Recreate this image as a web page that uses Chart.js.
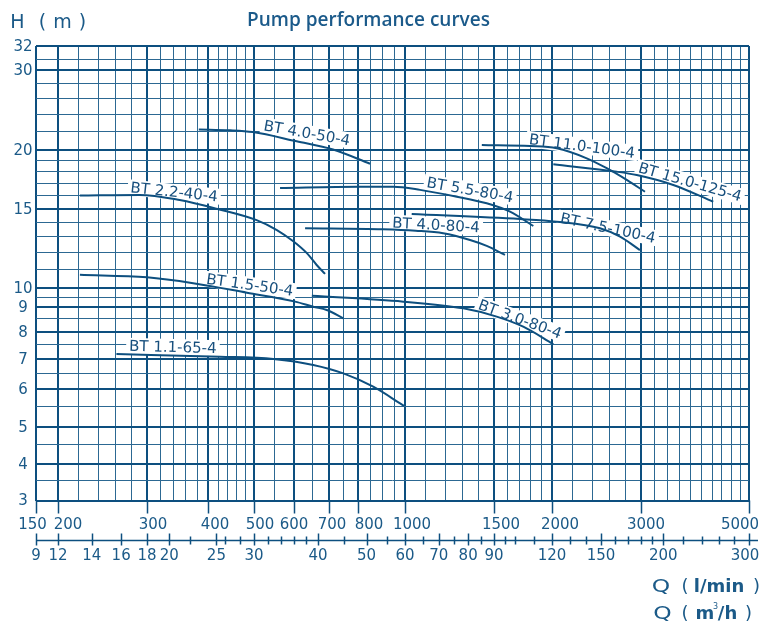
<!DOCTYPE html>
<html>
<head>
<meta charset="utf-8">
<script src="https://cdn.jsdelivr.net/npm/chart.js@4.4.1/dist/chart.umd.min.js"></script>
<style>
    html, body { margin: 0; padding: 0; background: #fff; }
    #wrap { width: 769px; height: 623px; }
</style>
</head>
<body>
<div id="wrap"><canvas id="canvas"></canvas></div>
<script>
// axis ticks (Q in l/min, H in m, secondary Q in m3/h)
const qLabeled = [150, 200, 300, 400, 500, 600, 700, 800, 1000, 1500, 2000, 3000, 5000];
const qMinor = [220, 240, 260, 280, 320, 340, 360, 380, 420, 440, 460, 480, 550, 650, 750, 850, 900, 950,
    1100, 1200, 1300, 1400, 1600, 1700, 1800, 1900, 2200, 2400, 2600, 2800,
    3200, 3400, 3600, 3800, 4000, 4200, 4400, 4600, 4800];
const hLabeled = [3, 4, 5, 6, 7, 8, 9, 10, 15, 20, 30, 32];
const hMinor = [3.5, 4.5, 5.5, 6.5, 7.5, 8.5, 9.5, 11, 12, 13, 14, 16, 17, 18, 19, 22, 24, 26, 28, 31];
const m3hLabeled = [9, 12, 14, 16, 18, 20, 25, 30, 40, 50, 60, 70, 80, 90, 120, 150, 200, 300];
const m3hMinor = [22, 26, 28, 32, 34, 36, 38, 45, 55, 65, 75, 85, 95, 100, 110, 130, 140, 160, 170, 180, 190,
    220, 240, 260, 280];

// pump curves: [Q l/min, H m]
const bt11_65_4 = [[261, 7.17], [424, 7.08], [546, 7.0], [653, 6.79], [748, 6.5], [860, 6.07], [995, 5.53]];
const bt15_50_4 = [[221, 10.7], [300, 10.56], [373, 10.25], [483, 9.74], [603, 9.26], [653, 9.0], [693, 8.86], [748, 8.52]];
const bt22_40_4 = [[221, 16.0], [290, 16.05], [350, 15.65], [417, 15.0], [506, 14.15], [555, 13.45], [598, 12.7], [635, 11.95], [663, 11.25], [688, 10.75]];
const bt30_80_4 = [[649, 9.57], [992, 9.26], [1304, 8.93], [1520, 8.59], [1734, 8.19], [2012, 7.53]];
const bt40_50_4 = [[383, 22.2], [445, 22.1], [497, 21.9], [607, 20.9], [713, 20.05], [847, 18.7]];
const bt40_80_4 = [[630, 13.57], [900, 13.5], [1050, 13.4], [1190, 13.23], [1345, 12.78], [1451, 12.4], [1584, 11.84]];
const bt55_80_4 = [[563, 16.6], [800, 16.7], [946, 16.7], [1071, 16.45], [1266, 15.91], [1451, 15.4], [1624, 14.77], [1823, 13.73]];
const bt75_100_4 = [[1031, 14.6], [1706, 14.23], [2043, 14.04], [2489, 13.57], [2727, 13.0], [2985, 12.14]];
const bt110_100_4 = [[1419, 20.52], [1794, 20.4], [2043, 20.17], [2343, 19.2], [2566, 18.29], [2811, 17.27], [3057, 16.3]];
const bt150_125_4 = [[2012, 18.65], [2686, 17.98], [2942, 17.69], [3495, 16.85], [4222, 15.52]];

// curve names: [text, Q, H, rotation deg]
const curveLabels = [
    ['BT 4.0-50-4', 635, 21.8, 10],
    ['BT 2.2-40-4', 341, 16.28, 6],
    ['BT 1.5-50-4', 490, 10.16, 8],
    ['BT 1.1-65-4', 339, 7.42, 1.5],
    ['BT 5.5-80-4', 1345, 16.45, 10],
    ['BT 4.0-80-4', 1152, 13.8, 3],
    ['BT 7.5-100-4', 2581, 13.59, 12],
    ['BT 11.0-100-4', 2293, 20.4, 7.5],
    ['BT 15.0-125-4', 3783, 17.1, 16],
    ['BT 3.0-80-4', 1706, 8.49, 20]
];

// the printed grid is not quite a uniform log scale: value -> pixel on the sheet
const axisCal = {
    x: [[150, 36], [200, 58], [300, 147], [400, 208], [500, 254], [600, 294], [700, 329], [800, 358],
        [1000, 405], [1500, 494], [2000, 552], [3000, 641], [5000, 749]],
    y: [[3, 500.5], [4, 463.7], [5, 426.7], [6, 389], [7, 359], [8, 331.7], [9, 306.7], [10, 288],
        [15, 208.7], [20, 150], [30, 70], [31, 59], [32, 46]]
};
// label nudges for the l/min row, as printed
const qLabelNudge = [-3.5, 10, 6, 7, 6, 0, 3, 11, 7, 7, 8, 5, -9];

const LINE = '#0d4f7f';
const MINOR = '#2c6892';
const TEXT = '#1b5a88';

class CalibratedLog extends Chart.LogarithmicScale {
    _cal() {
        const c = axisCal[this.id];
        const p0 = c[0][1], p1 = c[c.length - 1][1];
        return c.map(([v, p]) => [Math.log10(v), (p - p0) / (p1 - p0)]);
    }
    getPixelForValue(value) {
        if (value === null || value === undefined || isNaN(value) || value <= 0) return NaN;
        const c = this._cal();
        const lv = Math.log10(value);
        let i = 1;
        while (i < c.length - 1 && lv > c[i][0]) i++;
        const [a0, d0] = c[i - 1], [a1, d1] = c[i];
        return this.getPixelForDecimal(d0 + (lv - a0) / (a1 - a0) * (d1 - d0));
    }
    getValueForPixel(pixel) {
        const c = this._cal();
        const d = this.getDecimalForPixel(pixel);
        let i = 1;
        while (i < c.length - 1 && d > c[i][1]) i++;
        const [a0, d0] = c[i - 1], [a1, d1] = c[i];
        return Math.pow(10, a0 + (d - d0) / (d1 - d0) * (a1 - a0));
    }
}
CalibratedLog.id = 'calibratedLog';
CalibratedLog.defaults = Chart.LogarithmicScale.defaults;
Chart.register(CalibratedLog);

function gridAxis(min, max, major, minor) {
    const majorSet = new Set(major);
    return {
        type: 'calibratedLog',
        min: min,
        max: max,
        border: { display: false },
        grid: {
            drawTicks: false,
            color: c => (c.tick && majorSet.has(c.tick.value)) ? LINE : MINOR,
            lineWidth: c => (c.tick && majorSet.has(c.tick.value)) ? 2 : 1
        },
        ticks: { display: false, callback: () => '' },
        afterBuildTicks: s => {
            s.ticks = major.concat(minor).sort((a, b) => a - b).map(v => ({ value: v }));
        }
    };
}

function put(ctx, text, cx, base, font) {
    ctx.font = font;
    ctx.fillText(text, cx, base);
}

const decor = {
    id: 'decor',
    beforeDatasetsDraw(chart) {
        const { ctx, scales: { x, y } } = chart;
        ctx.save();
        ctx.font = '15px "DejaVu Sans"';
        ctx.textAlign = 'center';
        ctx.textBaseline = 'middle';
        curveLabels.forEach(([text, q, h, deg]) => {
            const w = ctx.measureText(text).width;
            ctx.save();
            ctx.translate(x.getPixelForValue(q), y.getPixelForValue(h));
            ctx.rotate(deg * Math.PI / 180);
            ctx.fillStyle = '#fff';
            ctx.fillRect(-w / 2 - 3, -8, w + 6, 16);
            ctx.fillStyle = '#174f7d';
            ctx.fillText(text, 0, 1);
            ctx.restore();
        });
        ctx.restore();
    },
    afterDraw(chart) {
        const { ctx, chartArea: a, scales: { x, y } } = chart;
        ctx.save();
        ctx.strokeStyle = LINE;
        ctx.fillStyle = TEXT;

        // l/min tick marks under the grid
        ctx.lineWidth = 1.5;
        qLabeled.forEach(v => {
            const px = Math.round(x.getPixelForValue(v)) + 0.5;
            ctx.beginPath(); ctx.moveTo(px, a.bottom); ctx.lineTo(px, a.bottom + 13); ctx.stroke();
        });

        // m3/h axis
        const axY = 540.5;
        ctx.beginPath(); ctx.moveTo(a.left, axY); ctx.lineTo(758, axY); ctx.stroke();
        const toLpm = m => m * 1000 / 60;
        m3hMinor.forEach(m => {
            const px = Math.round(x.getPixelForValue(toLpm(m))) + 0.5;
            ctx.beginPath(); ctx.moveTo(px, axY - 4); ctx.lineTo(px, axY + 4); ctx.stroke();
        });
        m3hLabeled.forEach(m => {
            const px = Math.round(x.getPixelForValue(toLpm(m))) + 0.5;
            ctx.beginPath(); ctx.moveTo(px, axY - 7); ctx.lineTo(px, axY + 5); ctx.stroke();
        });

        // tick labels
        ctx.font = '15px "DejaVu Sans"';
        ctx.textAlign = 'center';
        ctx.textBaseline = 'middle';
        qLabeled.forEach((v, i) => ctx.fillText(String(v), x.getPixelForValue(v) + qLabelNudge[i], 525));
        m3hLabeled.forEach((m, i) => {
            const nudge = i === m3hLabeled.length - 1 ? -4 : 0;
            ctx.fillText(String(m), x.getPixelForValue(toLpm(m)) + nudge, 556);
        });
        hLabeled.forEach(v => ctx.fillText(String(v), 23, y.getPixelForValue(v) + 1));

        // title and axis names
        ctx.textBaseline = 'alphabetic';
        ctx.fillStyle = '#1b5a8a';
        put(ctx, 'Pump performance curves', 368.5, 26, '600 19px "Open Sans"');

        ctx.fillStyle = TEXT;
        put(ctx, 'H', 17.5, 28, '19px "DejaVu Sans"');
        put(ctx, '(', 42.5, 28, '19px "DejaVu Sans"');
        put(ctx, 'm', 62.5, 28, '19px "DejaVu Sans"');
        put(ctx, ')', 82.5, 28, '19px "DejaVu Sans"');

        ctx.save();
        ctx.translate(661, 592); ctx.scale(1.3, 1);
        put(ctx, 'Q', 0, 0, '18px "DejaVu Sans"');
        ctx.restore();
        put(ctx, '(', 685, 592, '18px "DejaVu Sans"');
        put(ctx, 'l/min', 719, 592, 'bold 18px "DejaVu Sans"');
        put(ctx, ')', 756.5, 592, '18px "DejaVu Sans"');

        ctx.save();
        ctx.translate(662.5, 619); ctx.scale(1.3, 1);
        put(ctx, 'Q', 0, 0, '18px "DejaVu Sans"');
        ctx.restore();
        put(ctx, '(', 685, 619, '18px "DejaVu Sans"');
        put(ctx, 'm', 705, 619, 'bold 18px "DejaVu Sans"');
        put(ctx, '3', 715.5, 608.5, '8px "DejaVu Sans"');
        put(ctx, '/h', 727.5, 619, 'bold 18px "DejaVu Sans"');
        put(ctx, ')', 748.5, 619, '18px "DejaVu Sans"');
        ctx.restore();
    }
};

const curves = [bt11_65_4, bt15_50_4, bt22_40_4, bt30_80_4, bt40_50_4, bt40_80_4,
    bt55_80_4, bt75_100_4, bt110_100_4, bt150_125_4];

new Chart(document.getElementById('canvas'), {
    type: 'line',
    data: {
        datasets: curves.map(c => ({
            data: c.map(([q, h]) => ({ x: q, y: h })),
            borderColor: LINE,
            borderWidth: 2,
            pointRadius: 0,
            fill: false,
            cubicInterpolationMode: 'monotone'
        }))
    },
    options: {
        responsive: true,
        maintainAspectRatio: false,
        animation: false,
        events: [],
        layout: { padding: { left: 36, right: 20, top: 46, bottom: 122.5 } },
        plugins: { legend: { display: false }, tooltip: { enabled: false }, title: { display: false } },
        scales: {
            x: gridAxis(150, 5000, qLabeled, qMinor),
            y: gridAxis(3, 32, hLabeled, hMinor)
        }
    },
    plugins: [decor]
});
</script>
</body>
</html>
